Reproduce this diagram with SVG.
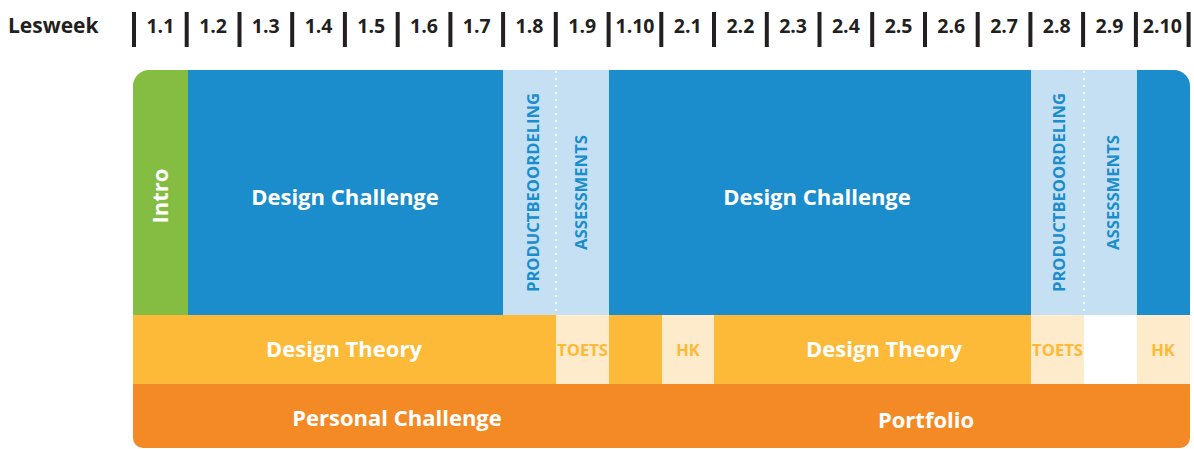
<svg xmlns="http://www.w3.org/2000/svg" width="1194" height="449" viewBox="0 0 1194 449">
<style>
text{font-family:"Open Sans","Liberation Sans",sans-serif;font-weight:700}
.wk{font-size:19.5px;fill:#231f20;text-anchor:middle}
.big{font-size:22px;fill:#ffffff;text-anchor:middle}
.vert{font-size:16px;fill:#1b8dcc;text-anchor:middle}
.small{font-size:16.5px;fill:#fdb937;text-anchor:middle}
.bar{fill:#231f20}
.dots{stroke:#ffffff;stroke-width:1.6;stroke-dasharray:2 5;fill:none}
</style>
<defs>
<clipPath id="chartClip">
<path d="M149,70 H1174 A16,16 0 0 1 1190,86 V438 A10,10 0 0 1 1180,448 H143 A10,10 0 0 1 133,438 V86 A16,16 0 0 1 149,70 Z"/>
</clipPath>
</defs>
<rect width="1194" height="449" fill="#ffffff"/>
<g id="header">
<text x="8" y="33" style="font-size:21px;fill:#231f20">Lesweek</text>
<rect class="bar" x="132" y="12" width="4" height="35"/>
<rect class="bar" x="184.7" y="12" width="4" height="35"/>
<rect class="bar" x="237.5" y="12" width="4" height="35"/>
<rect class="bar" x="290.2" y="12" width="4" height="35"/>
<rect class="bar" x="342.9" y="12" width="4" height="35"/>
<rect class="bar" x="395.7" y="12" width="4" height="35"/>
<rect class="bar" x="448.4" y="12" width="4" height="35"/>
<rect class="bar" x="501.1" y="12" width="4" height="35"/>
<rect class="bar" x="553.8" y="12" width="4" height="35"/>
<rect class="bar" x="606.6" y="12" width="4" height="35"/>
<rect class="bar" x="659.3" y="12" width="4" height="35"/>
<rect class="bar" x="712" y="12" width="4" height="35"/>
<rect class="bar" x="764.8" y="12" width="4" height="35"/>
<rect class="bar" x="817.5" y="12" width="4" height="35"/>
<rect class="bar" x="870.2" y="12" width="4" height="35"/>
<rect class="bar" x="923" y="12" width="4" height="35"/>
<rect class="bar" x="975.7" y="12" width="4" height="35"/>
<rect class="bar" x="1028.4" y="12" width="4" height="35"/>
<rect class="bar" x="1081.1" y="12" width="4" height="35"/>
<rect class="bar" x="1133.9" y="12" width="4" height="35"/>
<rect class="bar" x="1186.6" y="12" width="4" height="35"/>
<text class="wk" x="160.4" y="33">1.1</text>
<text class="wk" x="213.1" y="33">1.2</text>
<text class="wk" x="265.8" y="33">1.3</text>
<text class="wk" x="318.6" y="33">1.4</text>
<text class="wk" x="371.3" y="33">1.5</text>
<text class="wk" x="424" y="33">1.6</text>
<text class="wk" x="476.8" y="33">1.7</text>
<text class="wk" x="529.5" y="33">1.8</text>
<text class="wk" x="582.2" y="33">1.9</text>
<text class="wk" x="635" y="33">1.10</text>
<text class="wk" x="687.7" y="33">2.1</text>
<text class="wk" x="740.4" y="33">2.2</text>
<text class="wk" x="793.1" y="33">2.3</text>
<text class="wk" x="845.9" y="33">2.4</text>
<text class="wk" x="898.6" y="33">2.5</text>
<text class="wk" x="951.3" y="33">2.6</text>
<text class="wk" x="1004.1" y="33">2.7</text>
<text class="wk" x="1056.8" y="33">2.8</text>
<text class="wk" x="1109.5" y="33">2.9</text>
<text class="wk" x="1162.3" y="33">2.10</text>
</g>
<g clip-path="url(#chartClip)">
<g id="intro">
<rect x="133" y="70" width="55" height="245" fill="#84bd41"/>
<text class="big" transform="translate(168,196) rotate(-90)" x="0" y="0">Intro</text>
</g>
<g id="design-challenge-1">
<rect x="188" y="70" width="315" height="245" fill="#1b8dcc"/>
<text class="big" x="345" y="205">Design Challenge</text>
</g>
<g id="productbeoordeling-1">
<rect x="503" y="70" width="53" height="245" fill="#c5e0f2"/>
<text class="vert" transform="translate(539,192.5) rotate(-90)" textLength="199" lengthAdjust="spacingAndGlyphs">PRODUCTBEOORDELING</text>
</g>
<g id="assessments-1">
<rect x="556" y="70" width="53" height="245" fill="#c5e0f2"/>
<text class="vert" transform="translate(587,192.5) rotate(-90)" textLength="115" lengthAdjust="spacingAndGlyphs">ASSESSMENTS</text>
</g>
<g id="design-challenge-2">
<rect x="609" y="70" width="422" height="245" fill="#1b8dcc"/>
<text class="big" x="817" y="205">Design Challenge</text>
</g>
<g id="productbeoordeling-2">
<rect x="1031" y="70" width="53" height="245" fill="#c5e0f2"/>
<text class="vert" transform="translate(1065,192.5) rotate(-90)" textLength="199" lengthAdjust="spacingAndGlyphs">PRODUCTBEOORDELING</text>
</g>
<g id="assessments-2">
<rect x="1084" y="70" width="53" height="245" fill="#c5e0f2"/>
<text class="vert" transform="translate(1119,192.5) rotate(-90)" textLength="115" lengthAdjust="spacingAndGlyphs">ASSESSMENTS</text>
</g>
<g id="end-block">
<rect x="1137" y="70" width="53" height="245" fill="#1b8dcc"/>
</g>
<g id="design-theory-1">
<rect x="133" y="315" width="423" height="69" fill="#fdb938"/>
<text class="big" x="344" y="357">Design Theory</text>
</g>
<g id="toets-1">
<rect x="556" y="315" width="53" height="69" fill="#fdebcc"/>
<text class="small" x="582.5" y="355.5" textLength="51" lengthAdjust="spacingAndGlyphs">TOETS</text>
</g>
<g id="theory-gap">
<rect x="609" y="315" width="53" height="69" fill="#fdb938"/>
</g>
<g id="hk-1">
<rect x="662" y="315" width="52" height="69" fill="#fdebcc"/>
<text class="small" x="688" y="355.5">HK</text>
</g>
<g id="design-theory-2">
<rect x="714" y="315" width="317" height="69" fill="#fdb938"/>
<text class="big" x="884" y="357">Design Theory</text>
</g>
<g id="toets-2">
<rect x="1031" y="315" width="53" height="69" fill="#fdebcc"/>
<text class="small" x="1057.5" y="355.5" textLength="51" lengthAdjust="spacingAndGlyphs">TOETS</text>
</g>
<g id="empty">
<rect x="1084" y="315" width="53" height="69" fill="#ffffff"/>
</g>
<g id="hk-2">
<rect x="1137" y="315" width="53" height="69" fill="#fdebcc"/>
<text class="small" x="1163" y="355.5">HK</text>
</g>
<g id="personal-challenge">
<rect x="133" y="384" width="476" height="64" fill="#f48a26"/>
<text class="big" x="397" y="426">Personal Challenge</text>
</g>
<g id="portfolio">
<rect x="608" y="384" width="582" height="64" fill="#f48a26"/>
<text class="big" x="926" y="428">Portfolio</text>
</g>
</g>
<g id="connectors">
<line class="dots" x1="556" y1="71" x2="556" y2="314"/>
<line class="dots" x1="1084" y1="71" x2="1084" y2="314"/>
</g>
</svg>
